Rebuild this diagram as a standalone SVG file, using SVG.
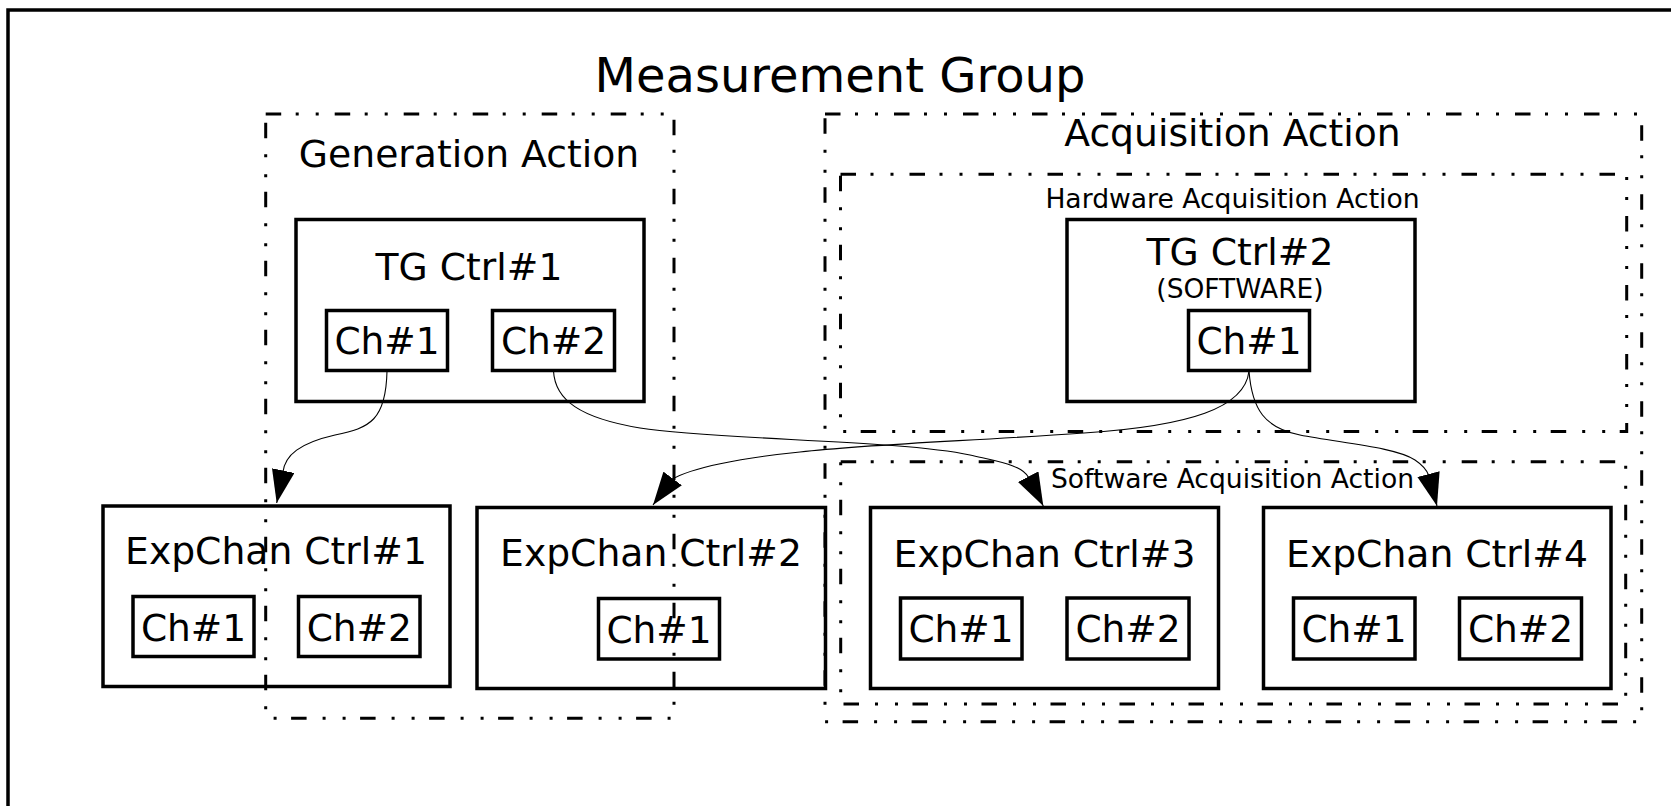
<svg xmlns="http://www.w3.org/2000/svg" width="1671" height="806" viewBox="0 0 1671 806">
<style>
text{font-family:"DejaVu Sans","Liberation Sans",sans-serif;fill:#000;text-anchor:middle}
.frame{fill:none;stroke:#000;stroke-width:3.5}
.cl{fill:none;stroke:#000;stroke-width:3;stroke-dasharray:15.5 14.5 3 17 3 16}
.box{fill:none;stroke:#000;stroke-width:3.5}
.ch{fill:none;stroke:#000;stroke-width:3.5}
.big{font-size:37.7px}
.mid{font-size:26.6px}
.t-ch{font-size:37.5px}
.edge{fill:none;stroke:#000;stroke-width:1.1;marker-end:url(#arr)}
</style>
<defs>
<marker id="arr" markerUnits="userSpaceOnUse" markerWidth="33" markerHeight="23" viewBox="0 0 33 23" refX="33" refY="11.5" orient="auto">
<path d="M0,0 L33,11.5 L0,23 Z" fill="#000"/>
</marker>
</defs>
<rect width="1671" height="806" fill="#fff"/>
<g id="measurement-group">
<rect class="frame" x="8" y="10" width="1720" height="860"/>
<text x="840" y="92" style="font-size:48px">Measurement Group</text>
</g>
<g id="generation-action">
<rect class="cl" x="265.7" y="114" width="408.3" height="604.3"/>
<text class="big" x="469" y="167">Generation Action</text>
</g>
<g id="acquisition-action">
<rect class="cl" x="825" y="114" width="816.7" height="607.7"/>
<text class="big" x="1232.5" y="146">Acquisition Action</text>
</g>
<g id="hardware-acquisition-action">
<rect class="cl" x="840.5" y="174.3" width="786.2" height="257.3"/>
<text class="mid" x="1232.5" y="208">Hardware Acquisition Action</text>
</g>
<g id="software-acquisition-action">
<rect class="cl" x="840.7" y="461.7" width="785" height="242.3"/>
<text class="mid" x="1232.5" y="488">Software Acquisition Action</text>
</g>
<g id="tg-ctrl-1">
<rect class="box" x="296" y="219.5" width="348" height="182"/>
<text class="big" x="469" y="280">TG Ctrl#1</text>
<rect class="ch" x="326.5" y="310.5" width="121" height="60"/>
<text class="t-ch" x="387" y="354">Ch#1</text>
<rect class="ch" x="492.5" y="310.5" width="122" height="60"/>
<text class="t-ch" x="553.5" y="354">Ch#2</text>
</g>
<g id="tg-ctrl-2">
<rect class="box" x="1067" y="219.5" width="348" height="182"/>
<text class="big" x="1240" y="265">TG Ctrl#2</text>
<text style="font-size:26.5px" x="1240" y="298">(SOFTWARE)</text>
<rect class="ch" x="1188.5" y="310.5" width="121" height="60"/>
<text class="t-ch" x="1249" y="354">Ch#1</text>
</g>
<g id="expchan-ctrl-1">
<rect class="box" x="103" y="506" width="347" height="180.5"/>
<text class="big" x="276" y="564">ExpChan Ctrl#1</text>
<rect class="ch" x="133" y="596.5" width="121" height="60"/>
<text class="t-ch" x="193.5" y="640.5">Ch#1</text>
<rect class="ch" x="298.5" y="596.5" width="121.5" height="60"/>
<text class="t-ch" x="359.3" y="640.5">Ch#2</text>
</g>
<g id="expchan-ctrl-2">
<rect class="box" x="477" y="507.5" width="348.5" height="181"/>
<text class="big" x="651" y="566">ExpChan Ctrl#2</text>
<rect class="ch" x="598.5" y="598.5" width="121" height="60.5"/>
<text class="t-ch" x="659" y="642.5">Ch#1</text>
</g>
<g id="expchan-ctrl-3">
<rect class="box" x="870.5" y="507.5" width="348" height="181"/>
<text class="big" x="1044.5" y="566.5">ExpChan Ctrl#3</text>
<rect class="ch" x="900.5" y="598" width="121.5" height="61"/>
<text class="t-ch" x="961" y="642">Ch#1</text>
<rect class="ch" x="1067" y="598" width="122" height="61"/>
<text class="t-ch" x="1128" y="642">Ch#2</text>
</g>
<g id="expchan-ctrl-4">
<rect class="box" x="1263.5" y="507.5" width="347.5" height="181"/>
<text class="big" x="1437" y="566.5">ExpChan Ctrl#4</text>
<rect class="ch" x="1293.5" y="598" width="121.5" height="61"/>
<text class="t-ch" x="1354" y="642">Ch#1</text>
<rect class="ch" x="1459.5" y="598" width="122" height="61"/>
<text class="t-ch" x="1520.5" y="642">Ch#2</text>
</g>
<g id="connectors">
<path class="edge" d="M387,371 C386,420 370,428 335,435 C300,443 285,455 283,472 L276.7,503"/>
<path class="edge" d="M553.5,371 C555,400 580,418 640,428 C720,440 900,440 970,455 C1000,462 1022,465 1028.8,477.8 L1043.3,506"/>
<path class="edge" d="M1249,371 C1245,408 1190,426 1084,433 C970,441 870,444 800,452 C740,458 690,468 672,479.4 L653,505"/>
<path class="edge" d="M1249,371 C1252,410 1265,428 1300,435 C1340,443 1395,447 1415,460 C1424,466 1427,470 1429,476 L1437,506"/>
</g>
</svg>
